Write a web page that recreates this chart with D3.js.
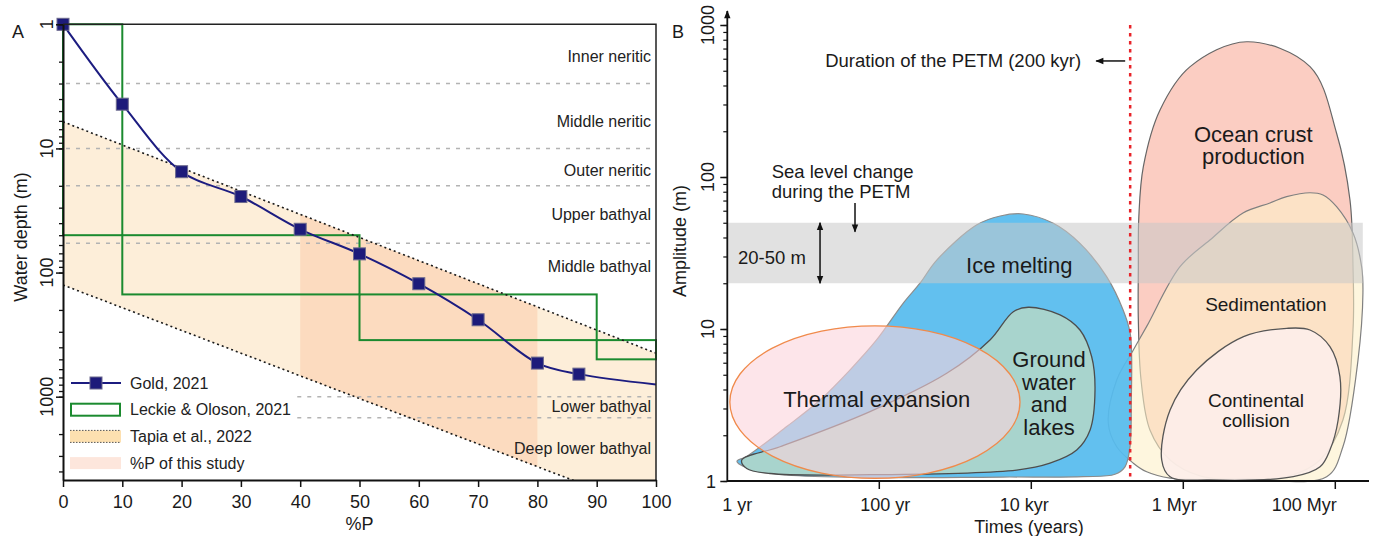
<!DOCTYPE html>
<html>
<head>
<meta charset="utf-8">
<script src="https://cdn.jsdelivr.net/npm/d3@7"></script>
<style>
  body { margin: 0; background: #fff; }
  svg { display: block; font-family: "Liberation Sans", Arial, Helvetica, sans-serif; }
</style>
</head>
<body>
<svg id="chart" width="1373" height="536"></svg>
<script>
// ---- panel A data (%P vs water depth) ----
const goldP = [0, 10, 20, 30, 40, 50, 60, 70, 80, 87];
const goldDepth = [1, 4.4, 15.4, 24.4, 44.8, 70.7, 123, 240, 536, 658];
const goldTail = [100, 797];
const leckieP = [[0, 10], [10, 50], [50, 90], [90, 100]];
const leckieDepth = [[1, 50], [50, 150], [150, 350], [350, 500]];
const tapiaP = [0, 100];
const tapiaTop = [6.1, 446];
const tapiaBottom = [126, 8500];
const studyP = [40, 80];
const zoneBounds = [3, 10, 20, 58, 1000, 1480];
const zoneFrom = [0, 0, 0, 0, 39, 39];
const zoneNames = ['Inner neritic', 'Middle neritic', 'Outer neritic', 'Upper bathyal',
  'Middle bathyal', 'Lower bathyal', 'Deep lower bathyal'];
const zoneLabelDepth = [1.83, 6.1, 14.9, 34.3, 90, 1200, 2630];
const depthTicks = [1, 10, 100, 1000];
const pTicks = [0, 10, 20, 30, 40, 50, 60, 70, 80, 90, 100];
const legendNames = ['Gold, 2021', 'Leckie & Oloson, 2021', 'Tapia et al., 2022', '%P of this study'];

// ---- panel B data (time in years, amplitude in m) ----
const timeTicks = [1, 100, 1e4, 1e6, 1e8];
const timeTickLabels = ['1 yr', '100 yr', '10 kyr', '1 Myr', '100 Myr'];
const ampTicks = [1, 10, 100, 1000];
const seaBand = [20, 50];
const seaBandTime = [1, 2.3e8];
const petmDuration = 2e5;
const thermalTime = [1.08, 7100];
const thermalAmp = [1.04, 10.5];
const iceMelting = [[1.34, 1.35], [1.8, 1.45], [6.05, 2.28], [16.6, 3.41], [41, 5.37], [92, 8.47],
  [207, 14.8], [343, 20], [570, 28.4], [1900, 48.3], [3900, 55.4], [7850, 57.1], [19500, 49.6],
  [43700, 36.6], [98000, 22.1], [162000, 13.3], [200000, 9.4], [209000, 6.6], [207000, 3.4],
  [199000, 1.68], [171000, 1.24], [126000, 1.107], [47900, 1.067], [4240, 1.062], [75, 1.054],
  [6, 1.095], [2.18, 1.18]];
const groundWater = [[1.55, 1.375], [4.94, 1.68], [75.5, 2.86], [771, 5.11], [2860, 8.47],
  [5800, 13], [9140, 13.9], [23900, 12.4], [43700, 9.85], [62300, 6.57], [68900, 3.97],
  [59200, 2.16], [39600, 1.6], [17600, 1.31], [6430, 1.18], [75.5, 1.1], [3.65, 1.12], [1.8, 1.21]];
const oceanCrust = [[6.83e6, 776], [4.65e7, 532], [1.04e8, 194], [1.56e8, 70.6],
  [1.71e8, 25.7], [1.71e8, 9.85], [1.26e8, 2.52], [6.3e7, 1.375], [2.5e7, 1.08], [6.5e6, 1.015],
  [1.66e6, 1.08], [6.7e5, 1.375], [3.65e5, 2.16], [2.78e5, 4.62], [2.56e5, 11.5], [2.56e5, 25.7],
  [2.6e5, 54.8], [2.98e5, 117], [4.94e5, 276], [1.23e6, 532]];
const sedimentation = [[4.65e7, 78.8], [2.29e7, 74.2], [1.38e7, 67.5], [6.1e6, 58], [2.24e6, 38.5],
  [9.05e5, 25.7], [3.3e5, 10.4], [2.2e5, 7.28], [1.33e5, 4.62], [1.03e5, 2.4], [1.33e5, 1.68],
  [2.2e5, 1.31], [3.3e5, 1.15], [6.7e5, 1.046], [7e6, 1.03], [7.7e7, 1.067], [1.26e8, 1.68],
  [1.99e8, 6.25], [2.31e8, 17.3], [2.22e8, 25.7], [1.71e8, 42.8], [1.04e8, 63.8], [6.89e7, 76.2]];
const collision = [[5.2e5, 1.375], [6.7e5, 2.93], [1.5e6, 5.37], [6.2e6, 8.9], [2.3e7, 10.1],
  [4.65e7, 9.85], [8.5e7, 7.65], [1.15e8, 4.86], [1.09e8, 2.52], [8.5e7, 1.6], [6.3e7, 1.24],
  [2.8e7, 1.067], [2.24e6, 1.015], [6.7e5, 1.067]];
const bigLabels = [['Ice melting'], ['Thermal expansion'], ['Ground', 'water', 'and', 'lakes'], ['Ocean crust', 'production']];
const bigLabelAt = [[6950, 23.4], [92.4, 3.05], [17100, 5.6], [8.34e6, 171]];
const smallLabels = [['Sedimentation'], ['Continental', 'collision']];
const smallLabelAt = [[1.22e7, 13.1], [9.05e6, 3.05]];

const svg = d3.select('#chart');
const defs = svg.append('defs');
defs.append('marker').attr('id', 'arrow')
  .attr('viewBox', '0 0 10 10').attr('refX', 9).attr('refY', 5)
  .attr('markerWidth', 9).attr('markerHeight', 8).attr('markerUnits', 'userSpaceOnUse')
  .attr('orient', 'auto-start-reverse')
  .append('path').attr('d', 'M0,1 L10,5 L0,9 Z').attr('fill', '#111');

const ink = '#1a1a1a';

// ================= PANEL A =================
const xA = d3.scaleLinear().domain([0, 100]).range([63, 656]);
const yA = d3.scaleLog().domain([1, 1000]).range([24.3, 396.7]);
const depthMax = yA.invert(480);
const a = svg.append('g');

defs.append('clipPath').attr('id', 'clipA').append('rect')
  .attr('x', xA(0)).attr('y', yA(1))
  .attr('width', xA(100) - xA(0)).attr('height', yA(depthMax) - yA(1));
defs.append('clipPath').attr('id', 'clipStudy').append('rect')
  .attr('x', xA(studyP[0])).attr('y', yA(1))
  .attr('width', xA(studyP[1]) - xA(studyP[0])).attr('height', yA(depthMax) - yA(1));

const tapia = tapiaP.map((p, i) => ({ p, top: tapiaTop[i], bottom: tapiaBottom[i] }));
const band = d3.area().x(d => xA(d.p)).y0(d => yA(d.top)).y1(d => yA(d.bottom));
a.append('path').datum(tapia).attr('d', band).attr('fill', '#fdeed9').attr('clip-path', 'url(#clipA)');
a.append('path').datum(tapia).attr('d', band).attr('fill', '#fcdbbf').attr('clip-path', 'url(#clipStudy)');

a.selectAll('line.zone').data(zoneBounds).join('line').attr('class', 'zone')
  .attr('x1', (d, i) => xA(zoneFrom[i]) + 3).attr('x2', xA(100))
  .attr('y1', d => yA(d)).attr('y2', d => yA(d))
  .attr('stroke', '#b3b3b3').attr('stroke-width', 1.5).attr('stroke-dasharray', '4,6');

a.selectAll('rect.leckie').data(leckieP).join('rect').attr('class', 'leckie')
  .attr('x', d => xA(d[0])).attr('width', d => xA(d[1]) - xA(d[0]))
  .attr('y', (d, i) => yA(leckieDepth[i][0]))
  .attr('height', (d, i) => yA(leckieDepth[i][1]) - yA(leckieDepth[i][0]))
  .attr('fill', 'none').attr('stroke', '#1b8a2f').attr('stroke-width', 2);

const lineA = d3.line().x(d => xA(d[0])).y(d => yA(d[1]));
[tapiaTop, tapiaBottom].forEach(arr => {
  a.append('path').datum(tapiaP.map((p, i) => [p, arr[i]]))
    .attr('d', lineA).attr('fill', 'none').attr('stroke', ink)
    .attr('stroke-width', 1.6).attr('stroke-dasharray', '2,3').attr('clip-path', 'url(#clipA)');
});

const gold = goldP.map((p, i) => [p, goldDepth[i]]);
a.append('path').datum([...gold, goldTail])
  .attr('d', lineA.curve(d3.curveCatmullRom.alpha(0.5)))
  .attr('fill', 'none').attr('stroke', '#1c1c80').attr('stroke-width', 2);
a.selectAll('rect.gold').data(gold).join('rect').attr('class', 'gold')
  .attr('x', d => xA(d[0]) - 6).attr('y', d => yA(d[1]) - 6)
  .attr('width', 12).attr('height', 12)
  .attr('fill', '#1d1b7a').attr('stroke', '#6c6a8e').attr('stroke-width', 1);

// frame + axes
a.append('path').attr('d', `M${xA(0)},${yA(1)}H${xA(100)}V${yA(depthMax)}`)
  .attr('fill', 'none').attr('stroke', '#222').attr('stroke-width', 1.5);

const yAxA = yA.copy().domain([1, depthMax]).range([yA(1), yA(depthMax)]);
a.append('g').attr('transform', `translate(${xA(0)},0)`)
  .call(d3.axisLeft(yAxA).tickValues(yAxA.ticks()).tickSize(4).tickSizeOuter(0).tickFormat(''))
  .call(g => g.selectAll('line').attr('stroke', '#111').attr('stroke-width', 1.3))
  .call(g => g.select('.domain').attr('stroke', '#111').attr('stroke-width', 2));
a.append('g').attr('transform', `translate(${xA(0)},0)`)
  .call(d3.axisLeft(yAxA).tickValues(depthTicks).tickSize(7).tickFormat(''))
  .call(g => g.select('.domain').remove())
  .call(g => g.selectAll('line').attr('stroke', '#111').attr('stroke-width', 1.5));
a.selectAll('text.ylab').data(depthTicks).join('text').attr('class', 'ylab')
  .attr('transform', d => `translate(53,${yA(d)}) rotate(-90)`)
  .attr('text-anchor', 'middle').attr('font-size', 18).attr('fill', ink).text(d => d);

a.append('g').attr('transform', `translate(0,${yA(depthMax)})`)
  .call(d3.axisBottom(xA).tickValues(pTicks).tickSize(7).tickSizeOuter(0).tickPadding(8))
  .call(g => g.select('.domain').attr('stroke', '#111').attr('stroke-width', 2))
  .call(g => g.selectAll('line').attr('stroke', '#111').attr('stroke-width', 1.5))
  .call(g => g.selectAll('text').attr('font-size', 18).attr('fill', ink)
    .attr('font-family', '"Liberation Sans", Arial, sans-serif'));

a.append('text').attr('x', xA(50)).attr('y', 530).attr('text-anchor', 'middle')
  .attr('font-size', 18).attr('fill', ink).text('%P');
a.append('text').attr('transform', 'translate(27,237) rotate(-90)').attr('text-anchor', 'middle')
  .attr('font-size', 18).attr('fill', ink).text('Water depth (m)');
a.append('text').attr('x', 12).attr('y', 38).attr('font-size', 18).attr('fill', ink).text('A');

a.selectAll('text.zone').data(zoneNames).join('text').attr('class', 'zone')
  .attr('x', xA(100) - 5).attr('y', (d, i) => yA(zoneLabelDepth[i])).attr('dy', '0.35em')
  .attr('text-anchor', 'end').attr('font-size', 16).attr('fill', '#222').text(d => d);

// legend
const leg = a.append('g').attr('transform', 'translate(70,383)');
const legRows = leg.selectAll('g').data(legendNames).join('g')
  .attr('transform', (d, i) => `translate(0,${i * 26.7})`);
legRows.append('text').attr('x', 60).attr('dy', '0.35em').attr('font-size', 16).attr('fill', '#222').text(d => d);
legRows.filter((d, i) => i === 0).call(g => {
  g.append('line').attr('x1', 1).attr('x2', 51).attr('stroke', '#1c1c80').attr('stroke-width', 2);
  g.append('rect').attr('x', 20).attr('y', -6).attr('width', 12).attr('height', 12)
    .attr('fill', '#1d1b7a').attr('stroke', '#6c6a8e');
});
legRows.filter((d, i) => i === 1).append('rect').attr('x', 1).attr('y', -6).attr('width', 49).attr('height', 12)
  .attr('fill', '#fff').attr('stroke', '#1b8a2f').attr('stroke-width', 2);
legRows.filter((d, i) => i === 2).call(g => {
  g.append('rect').attr('x', 0).attr('y', -6).attr('width', 51).attr('height', 12).attr('fill', '#fde0b0');
  [-6, 6].forEach(yy => g.append('line').attr('x1', 0).attr('x2', 51).attr('y1', yy).attr('y2', yy)
    .attr('stroke', '#555').attr('stroke-width', 1).attr('stroke-dasharray', '1.5,1.5'));
});
legRows.filter((d, i) => i === 3).append('rect').attr('x', 0).attr('y', -6).attr('width', 51).attr('height', 12)
  .attr('fill', '#fde6dc');

// ================= PANEL B =================
const xB = d3.scaleLog().domain([1, 1e8]).range([727.3, 1335.3]);
const yB = d3.scaleLog().domain([1, 1000]).range([481, 25]);
const b = svg.append('g');
const blob = d3.line().x(d => xB(d[0])).y(d => yB(d[1])).curve(d3.curveCatmullRomClosed.alpha(0.5));

b.append('path').datum(oceanCrust).attr('d', blob)
  .attr('fill', '#fbcdc2').attr('stroke', '#666').attr('stroke-width', 1.2);
b.append('path').datum(sedimentation).attr('d', blob)
  .attr('fill', 'rgb(253,240,200)').attr('fill-opacity', 0.6).attr('stroke', '#808080').attr('stroke-width', 1.2);
b.append('path').datum(collision).attr('d', blob)
  .attr('fill', '#fdeeea').attr('fill-opacity', 0.9).attr('stroke', '#555').attr('stroke-width', 1.3);
b.append('path').datum(iceMelting).attr('d', blob)
  .attr('fill', '#56bbee').attr('fill-opacity', 0.93).attr('stroke', '#8c8c8c').attr('stroke-width', 1.2);
b.append('path').datum(groundWater).attr('d', blob)
  .attr('fill', '#a8d4cd').attr('stroke', '#4d4d4d').attr('stroke-width', 1.3);
b.append('ellipse')
  .attr('cx', (xB(thermalTime[0]) + xB(thermalTime[1])) / 2)
  .attr('cy', (yB(thermalAmp[0]) + yB(thermalAmp[1])) / 2)
  .attr('rx', (xB(thermalTime[1]) - xB(thermalTime[0])) / 2)
  .attr('ry', (yB(thermalAmp[0]) - yB(thermalAmp[1])) / 2)
  .attr('fill', 'rgb(252,211,220)').attr('fill-opacity', 0.6)
  .attr('stroke', '#f08a4b').attr('stroke-width', 1.3);

b.append('rect')
  .attr('x', xB(seaBandTime[0])).attr('width', xB(seaBandTime[1]) - xB(seaBandTime[0]))
  .attr('y', yB(seaBand[1])).attr('height', yB(seaBand[0]) - yB(seaBand[1]))
  .attr('fill', 'rgb(200,200,200)').attr('fill-opacity', 0.55);

b.append('line').attr('x1', xB(petmDuration)).attr('x2', xB(petmDuration))
  .attr('y1', yB(1000)).attr('y2', yB(1))
  .attr('stroke', '#e8252a').attr('stroke-width', 2.5).attr('stroke-dasharray', '3.5,4.5');

// shape labels
const putLabels = (lines, at, size, gap) => {
  b.selectAll(null).data(lines).join('text')
    .attr('x', (d, i) => xB(at[i][0])).attr('y', (d, i) => yB(at[i][1]))
    .attr('text-anchor', 'middle').attr('font-size', size).attr('fill', ink)
    .selectAll('tspan').data(d => d).join('tspan')
    .attr('x', function () { return this.parentNode.getAttribute('x'); })
    .attr('dy', (d, i) => i ? gap : 0).text(d => d);
};
putLabels(bigLabels, bigLabelAt, 22, 22.5);
putLabels(smallLabels, smallLabelAt, 19, 20);

// annotations
b.append('text').attr('x', xB(petmDuration) - 49).attr('y', yB(580) + 6.5).attr('text-anchor', 'end')
  .attr('font-size', 18.5).attr('fill', ink).text('Duration of the PETM (200 kyr)');
b.append('line').attr('x1', xB(petmDuration) - 5).attr('x2', xB(petmDuration) - 34)
  .attr('y1', yB(580)).attr('y2', yB(580)).attr('stroke', '#111').attr('stroke-width', 1.5)
  .attr('marker-end', 'url(#arrow)');
b.append('text').attr('x', xB(3.84)).attr('y', yB(98.5)).attr('font-size', 18.5).attr('fill', ink)
  .text('Sea level change');
b.append('text').attr('x', xB(3.84)).attr('y', yB(72.8)).attr('font-size', 18.5).attr('fill', ink)
  .text('during the PETM');
b.append('line').attr('x1', xB(47.9)).attr('x2', xB(47.9)).attr('y1', yB(67.5)).attr('y2', yB(43.6))
  .attr('stroke', '#111').attr('stroke-width', 1.5).attr('marker-end', 'url(#arrow)');
b.append('text').attr('x', xB(1.38)).attr('y', yB(26.7)).attr('font-size', 18.5).attr('fill', ink)
  .text('20-50 m');
b.append('line').attr('x1', xB(16.6)).attr('x2', xB(16.6)).attr('y1', yB(seaBand[0])).attr('y2', yB(seaBand[1]))
  .attr('stroke', '#111').attr('stroke-width', 1.5)
  .attr('marker-start', 'url(#arrow)').attr('marker-end', 'url(#arrow)');

// axes B
b.append('g').attr('transform', `translate(${xB(1)},0)`)
  .call(d3.axisLeft(yB).tickValues(yB.ticks()).tickSize(4).tickFormat(''))
  .call(g => g.select('.domain').remove())
  .call(g => g.selectAll('line').attr('stroke', '#111').attr('stroke-width', 1.2));
b.append('g').attr('transform', `translate(${xB(1)},0)`)
  .call(d3.axisLeft(yB).tickValues(ampTicks).tickSize(7).tickFormat(''))
  .call(g => g.select('.domain').remove())
  .call(g => g.selectAll('line').attr('stroke', '#111').attr('stroke-width', 1.5));
b.append('line').attr('x1', xB(1)).attr('x2', xB(1)).attr('y1', yB(1) + 1).attr('y2', 11)
  .attr('stroke', '#111').attr('stroke-width', 1.8).attr('marker-end', 'url(#arrow)');
b.selectAll('text.ylab').data(ampTicks).join('text').attr('class', 'ylab')
  .attr('transform', d => d === 1 ? `translate(716,${yB(d) + 6.5})` : `translate(714,${yB(d)}) rotate(-90)`)
  .attr('text-anchor', d => d === 1 ? 'end' : 'middle')
  .attr('font-size', 18).attr('fill', ink).text(d => d);

b.append('line').attr('x1', xB(1)).attr('x2', 1369).attr('y1', yB(1)).attr('y2', yB(1))
  .attr('stroke', '#111').attr('stroke-width', 2);
b.selectAll('line.xt').data(timeTicks.slice(1)).join('line').attr('class', 'xt')
  .attr('x1', d => xB(d)).attr('x2', d => xB(d)).attr('y1', yB(1)).attr('y2', yB(1) + 8)
  .attr('stroke', '#111').attr('stroke-width', 1.5);
const tickShift = [10, 6, -7, -9, -31];
b.selectAll('text.xlab').data(timeTickLabels).join('text').attr('class', 'xlab')
  .attr('x', (d, i) => xB(timeTicks[i]) + tickShift[i]).attr('y', 511)
  .attr('text-anchor', 'middle').attr('font-size', 18).attr('fill', ink).text(d => d);

b.append('text').attr('x', 1029).attr('y', 533).attr('text-anchor', 'middle')
  .attr('font-size', 18).attr('fill', ink).text('Times (years)');
b.append('text').attr('transform', 'translate(686,241) rotate(-90)').attr('text-anchor', 'middle')
  .attr('font-size', 18).attr('fill', ink).text('Amplitude (m)');
b.append('text').attr('x', 672).attr('y', 38).attr('font-size', 18).attr('fill', ink).text('B');
</script>
</body>
</html>
